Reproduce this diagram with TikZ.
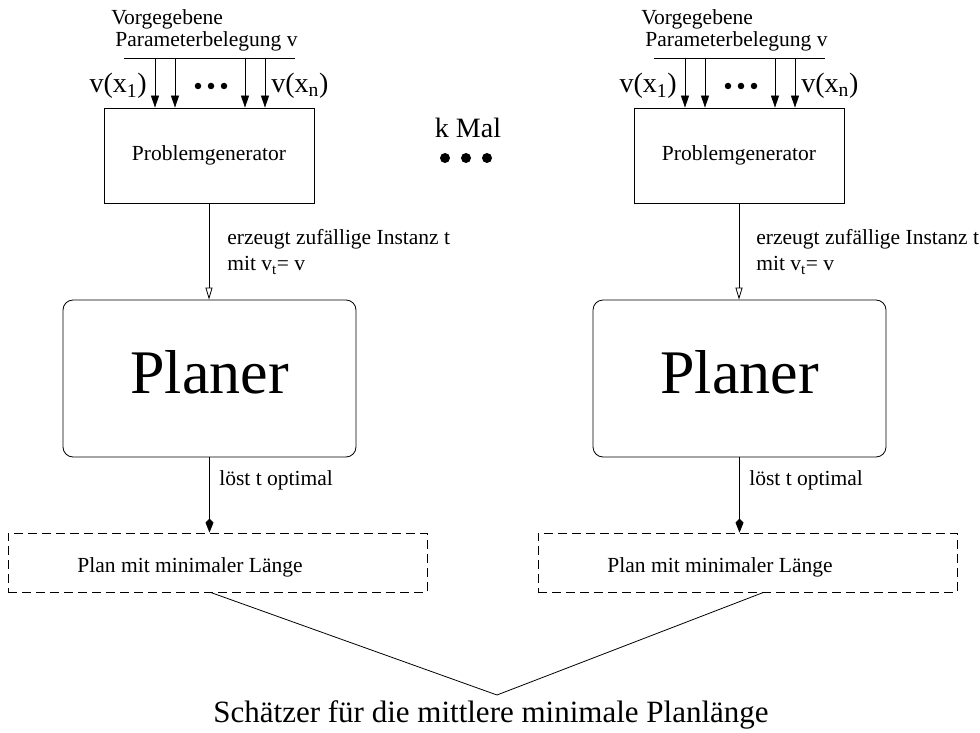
\documentclass[tikz,border=0pt]{standalone}
\usepackage{fontspec}
\setmainfont{Liberation Serif}
\usepackage{tikz}
\usetikzlibrary{positioning,arrows.meta,calc}

\begin{document}
\begin{tikzpicture}[x=1pt, y=-1pt, line width=0.8pt,
        txt/.style={font=\fontsize{21.5}{26}\selectfont, inner sep=0pt},
        gross/.style={font=\fontsize{28}{30}\selectfont, inner sep=0pt},
        punkt/.style={circle, fill, inner sep=0pt, minimum size=6.5pt},
        grosspunkt/.style={circle, fill, inner sep=0pt, minimum size=10pt},
        genbox/.style={draw, rectangle, minimum width=210pt, minimum height=95pt, font=\fontsize{21.5}{26}\selectfont},
        planerbox/.style={draw, rectangle, rounded corners=10pt, minimum width=293pt, minimum height=157pt, text depth=14pt, font=\fontsize{62}{62}\selectfont},
        planbox/.style={draw, rectangle, dash pattern=on 9pt off 5pt, minimum width=419pt, minimum height=59pt},
        pfeil/.style={-{Triangle[length=12pt,width=8pt]}},
        offen/.style={-{Triangle[open,length=12pt,width=7pt]}},
        raute/.style={-{Kite[length=14pt,width=8pt,inset=4pt]}}]
    \useasboundingbox (0,0) rectangle (980,733);

    % linke Seite
    \node[txt, anchor=base west](vorL) at (111,25){Vorgegebene};
    \node[txt, anchor=base west](parL) at (115,47){Parameterbelegung v};
    \coordinate (barLa) at (124,58);
    \coordinate (barLb) at (295,58);
    \draw (barLa)--(barLb);
    \coordinate (aL1) at (155,58);
    \coordinate (aL2) at (175,58);
    \coordinate (aL3) at (245,58);
    \coordinate (aL4) at (265,58);
    \node[gross, anchor=east](vx1L) at (147,86){v(x\textsubscript{1})};
    \node[punkt](pL1) at (198,86){};
    \node[punkt](pL2) at (211,86){};
    \node[punkt](pL3) at (224,86){};
    \node[gross, anchor=west](vxnL) at (271,86){v(x\textsubscript{n})};
    \node[genbox](genL) at (209,155.5){Problemgenerator};
    \draw[pfeil](aL1)--(aL1 |- genL.north);
    \draw[pfeil](aL2)--(aL2 |- genL.north);
    \draw[pfeil](aL3)--(aL3 |- genL.north);
    \draw[pfeil](aL4)--(aL4 |- genL.north);
    \node[planerbox](planerL) at (209.5,378.5){Planer};
    \draw[offen](genL.south)--(genL.south |- planerL.north);
    \node[txt, anchor=west, align=left](erzL) at (227,252){erzeugt zufällige Instanz t\\mit v\textsubscript{t}= v};
    \node[planbox](planL) at (217.5,562.5){};
    \node[txt](planLtxt) at (190,567){Plan mit minimaler Länge};
    \draw[raute](planerL.south)--(planerL.south |- planL.north);
    \node[txt, anchor=west](loestL) at (219,480){löst t optimal};

    % rechte Seite
    \node[txt, anchor=base west](vorR) at (641,25){Vorgegebene};
    \node[txt, anchor=base west](parR) at (645,47){Parameterbelegung v};
    \coordinate (barRa) at (654,58);
    \coordinate (barRb) at (825,58);
    \draw (barRa)--(barRb);
    \coordinate (aR1) at (685,58);
    \coordinate (aR2) at (705,58);
    \coordinate (aR3) at (775,58);
    \coordinate (aR4) at (795,58);
    \node[gross, anchor=east](vx1R) at (677,86){v(x\textsubscript{1})};
    \node[punkt](pR1) at (728,86){};
    \node[punkt](pR2) at (741,86){};
    \node[punkt](pR3) at (754,86){};
    \node[gross, anchor=west](vxnR) at (801,86){v(x\textsubscript{n})};
    \node[genbox](genR) at (739,155.5){Problemgenerator};
    \draw[pfeil](aR1)--(aR1 |- genR.north);
    \draw[pfeil](aR2)--(aR2 |- genR.north);
    \draw[pfeil](aR3)--(aR3 |- genR.north);
    \draw[pfeil](aR4)--(aR4 |- genR.north);
    \node[planerbox](planerR) at (739.5,378.5){Planer};
    \draw[offen](genR.south)--(genR.south |- planerR.north);
    \node[txt, anchor=west, align=left](erzR) at (756,252){erzeugt zufällige Instanz t\\mit v\textsubscript{t}= v};
    \node[planbox](planR) at (747.5,562.5){};
    \node[txt](planRtxt) at (720,567){Plan mit minimaler Länge};
    \draw[raute](planerR.south)--(planerR.south |- planR.north);
    \node[txt, anchor=west](loestR) at (749,480){löst t optimal};

    % Mitte
    \node[gross](kmal) at (468,128){k Mal};
    \node[grosspunkt](pM1) at (445,158){};
    \node[grosspunkt](pM2) at (466,158){};
    \node[grosspunkt](pM3) at (487,158){};
    \coordinate (spitze) at (497,695);
    \draw ([xshift=-7pt]planL.south)--(spitze)--([xshift=16pt]planR.south);
    \node[anchor=north, inner sep=0pt, font=\fontsize{31}{34}\selectfont](schaetzer) at (491,700){Schätzer für die mittlere minimale Planlänge};
\end{tikzpicture}
\end{document}
